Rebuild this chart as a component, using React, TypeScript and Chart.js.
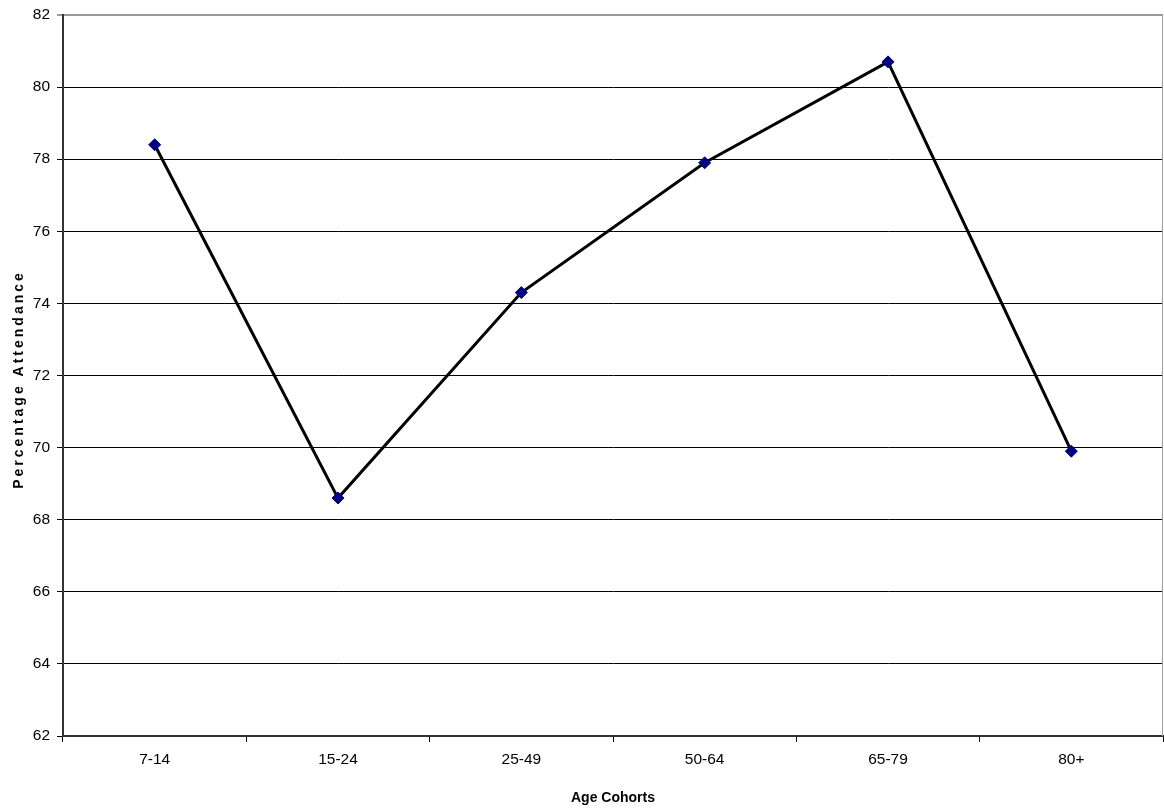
import React, { useEffect, useRef } from "react";
import { Chart, registerables } from "chart.js";

Chart.register(...registerables);

const categories = ["7-14", "15-24", "25-49", "50-64", "65-79", "80+"];
const attendance = [78.4, 68.6, 74.3, 77.9, 80.7, 69.9];
const yMin = 62;
const yMax = 82;
const yStep = 2;
const xTitle = "Age Cohorts";
const yTitle = "Percentage Attendance";

const FONT = "'Liberation Sans', Arial, sans-serif";

const decorPlugin = {
  id: "decor",
  afterDraw(chart: any) {
    const { ctx, chartArea } = chart;
    ctx.save();
    ctx.strokeStyle = "#a0a0a0";
    ctx.lineWidth = 1;
    ctx.beginPath();
    ctx.moveTo(chartArea.right - 0.5, chartArea.top);
    ctx.lineTo(chartArea.right - 0.5, chartArea.bottom);
    ctx.stroke();
    ctx.restore();

    ctx.save();
    ctx.fillStyle = "#000";
    ctx.font = `bold 14px ${FONT}`;
    (ctx as any).letterSpacing = "3px";
    ctx.textAlign = "center";
    ctx.textBaseline = "middle";
    ctx.translate(19, (chartArea.top + chartArea.bottom) / 2 + 4);
    ctx.rotate(-Math.PI / 2);
    ctx.fillText(yTitle, 0, 0);
    ctx.restore();
  },
};

export default function App() {
  const ref = useRef<HTMLCanvasElement | null>(null);
  useEffect(() => {
    document.body.style.margin = "0";
    if (!ref.current) return;
    const chart = new Chart(ref.current, {
      type: "line",
      data: {
        labels: categories,
        datasets: [
          {
            data: attendance,
            borderColor: "#000000",
            borderWidth: 3,
            pointStyle: "rectRot",
            pointRadius: 6,
            pointBackgroundColor: "#000080",
            pointBorderColor: "#000080",
            pointBorderWidth: 1,
            tension: 0,
          },
        ],
      },
      options: {
        animation: false,
        responsive: false,
        devicePixelRatio: 1,
        layout: { autoPadding: false, padding: { top: 15, right: 1, left: 0, bottom: 2 } },
        plugins: { legend: { display: false }, tooltip: { enabled: false } },
        scales: {
          x: {
            type: "category",
            offset: true,
            grid: {
              offset: true,
              drawOnChartArea: false,
              drawTicks: true,
              tickLength: 6,
              color: "#000000",
            },
            border: { color: "#333333", width: 2 },
            ticks: { color: "#000", font: { family: FONT, size: 15.5 }, padding: 8 },
            title: {
              display: true,
              text: xTitle,
              color: "#000",
              font: { family: FONT, size: 14, weight: "bold" },
              padding: { top: 10, bottom: 0 },
            },
            afterFit(scale: any) {
              scale.height = 71;
              scale.paddingLeft = 0;
              scale.paddingRight = 0;
            },
          },
          y: {
            min: yMin,
            max: yMax,
            ticks: {
              stepSize: yStep,
              color: "#000",
              font: { family: FONT, size: 15.5 },
              padding: 7,
            },
            grid: {
              color: (ctx: any) => (ctx.tick && ctx.tick.value === yMax ? "#999999" : "#000000"),
              lineWidth: (ctx: any) => (ctx.tick && ctx.tick.value === yMax ? 2 : 1),
              tickLength: 6,
            },
            border: { color: "#333333", width: 2 },
            afterFit(scale: any) {
              scale.width = 63;
              scale.paddingTop = 0;
              scale.paddingBottom = 0;
            },
          },
        },
      },
      plugins: [decorPlugin],
    } as any);
    return () => chart.destroy();
  }, []);
  return (
    <div style={{ position: "absolute", left: 0, top: 0, width: 1164, height: 809 }}>
      <canvas ref={ref} width={1164} height={809} style={{ width: 1164, height: 809 }} />
    </div>
  );
}
